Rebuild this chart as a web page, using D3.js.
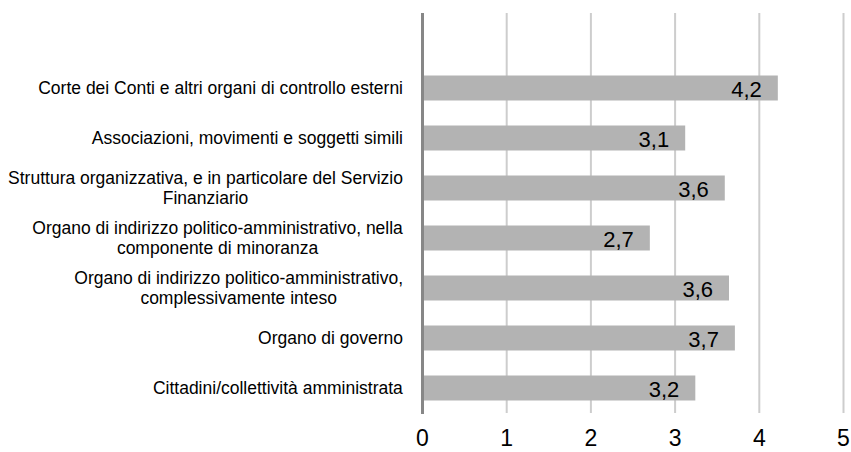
<!DOCTYPE html>
<html>
<head>
<meta charset="utf-8">
<script src="https://cdn.jsdelivr.net/npm/d3@7"></script>
<style>
  body { margin: 0; background: #fff; overflow: hidden; }
  text { font-family: "Liberation Sans", Arial, sans-serif; fill: #000; }
</style>
</head>
<body>
<svg id="chart" width="851" height="452"></svg>
<script>
// categories, top to bottom; each entry is a list of label lines
var categories = [
	["Corte dei Conti e altri organi di controllo esterni"],
	["Associazioni, movimenti e soggetti simili "],
	["Struttura organizzativa, e in particolare del Servizio", "Finanziario"],
	["Organo di indirizzo politico-amministrativo, nella", "componente di minoranza"],
	["Organo di indirizzo politico-amministrativo,", "complessivamente inteso"],
	["Organo di governo"],
	["Cittadini/collettività amministrata"]
];
var values = [4.22, 3.12, 3.59, 2.70, 3.64, 3.71, 3.24];
var valueLabels = ["4,2", "3,1", "3,6", "2,7", "3,6", "3,7", "3,2"];
var xTicks = [0, 1, 2, 3, 4, 5];

var svg = d3.select("#chart");
var plotTop = 13, plotBottom = 413;

var x = d3.scaleLinear().domain([0, 5]).range([422.5, 843.5]);
// one empty band above the first bar, as in the original
var y = d3.scaleBand()
	.domain(d3.range(categories.length))
	.range([63, plotBottom])
	.paddingInner(0.5)
	.paddingOuter(0.25);

// vertical gridlines
svg.append("g").selectAll("line")
	.data(xTicks.slice(1))
	.enter().append("line")
	.attr("x1", function(d){ return x(d); })
	.attr("x2", function(d){ return x(d); })
	.attr("y1", plotTop).attr("y2", plotBottom)
	.attr("stroke", "#cdcdcd").attr("stroke-width", 2);

// bars
svg.append("g").selectAll("rect")
	.data(values)
	.enter().append("rect")
	.attr("x", x(0))
	.attr("y", function(d, i){ return y(i); })
	.attr("width", function(d){ return x(d) - x(0); })
	.attr("height", y.bandwidth())
	.attr("fill", "#b3b3b3");

// value labels, inside end of bar
svg.append("g").selectAll("text")
	.data(values)
	.enter().append("text")
	.attr("x", function(d){ return x(d) - 16; })
	.attr("y", function(d, i){ return y(i) + y.bandwidth() / 2 + 1; })
	.attr("dy", "0.35em")
	.attr("text-anchor", "end")
	.style("font-size", "22px")
	.text(function(d, i){ return valueLabels[i]; });

// axis line at zero
svg.append("line")
	.attr("x1", x(0)).attr("x2", x(0))
	.attr("y1", plotTop).attr("y2", plotBottom + 1)
	.attr("stroke", "#878787").attr("stroke-width", 3);

// category labels, centered on each band
var lineH = 20;
var cat = svg.append("g").selectAll("text")
	.data(categories)
	.enter().append("text")
	.attr("text-anchor", "middle")
	.style("font-size", "17.5px")
	.attr("transform", function(lines, i){
		var cy = y(i) + y.bandwidth() / 2 - (lines.length - 1) * lineH / 2;
		return "translate(0," + cy + ")";
	});
cat.each(function(lines){
	var t = d3.select(this);
	// measure widest line so the block is right aligned, lines centered
	t.selectAll("tspan").data(lines).enter().append("tspan")
		.attr("x", 0)
		.attr("dy", function(d, j){ return j == 0 ? "0.35em" : lineH; })
		.text(function(d){ return d; });
	var w = this.getBBox().width;
	t.selectAll("tspan").attr("x", 403 - w / 2);
});

// x tick labels
svg.append("g").selectAll("text")
	.data(xTicks)
	.enter().append("text")
	.attr("x", function(d){ return x(d); })
	.attr("y", 446)
	.attr("text-anchor", "middle")
	.style("font-size", "23px")
	.text(function(d){ return d; });
</script>
</body>
</html>
